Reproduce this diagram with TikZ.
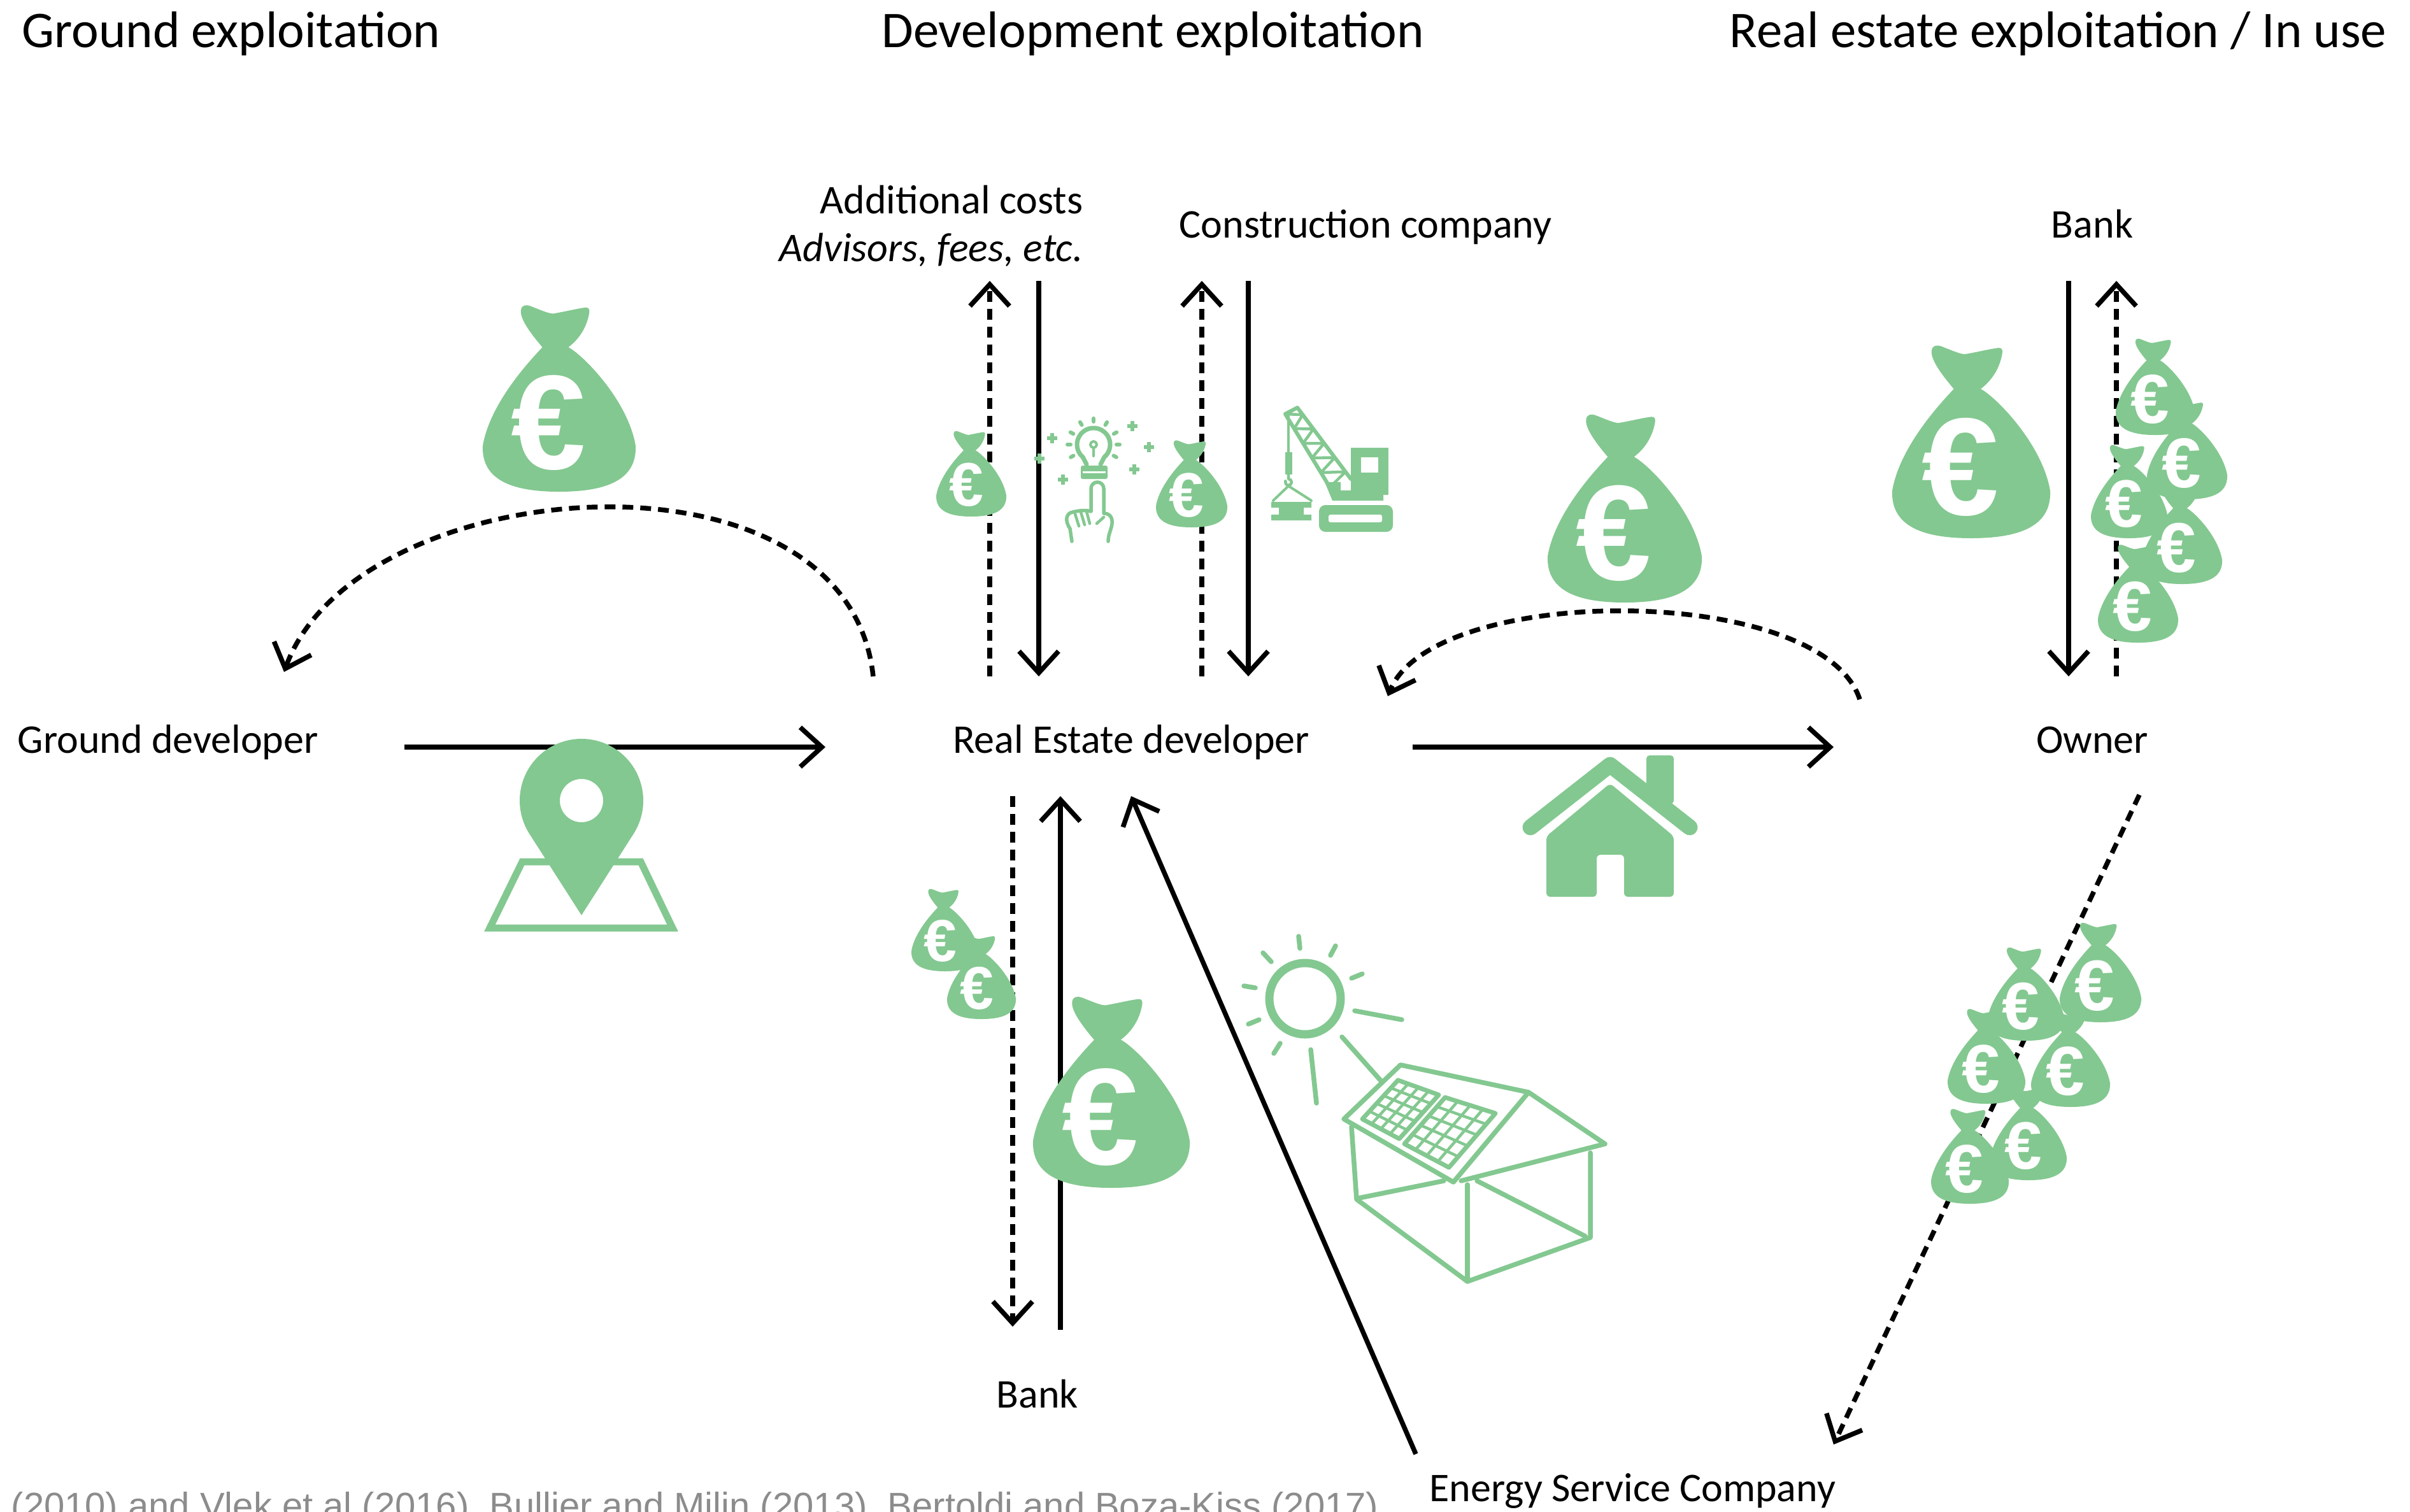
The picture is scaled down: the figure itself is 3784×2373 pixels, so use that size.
\documentclass[tikz,border=0pt]{standalone}
\usepackage{fontspec}
\setmainfont{Carlito}
\newfontfamily\eurofont{Liberation Sans}
\newfontfamily\quellfont{Liberation Sans}
\usepackage{tikz}
\usetikzlibrary{arrows.meta,calc}

\definecolor{geld}{RGB}{131,200,144}
\definecolor{quellgrau}{RGB}{140,140,140}

\tikzset{
    fluss/.style={line width=.75mm, -{Straight Barb[length=3.4mm,width=6.2mm]}},
    geldfluss/.style={fluss, dash pattern=on 1.7mm off 1.1mm},
    titel/.style={font=\fontsize{23}{28}\selectfont, inner sep=0pt},
    beschr/.style={font=\fontsize{18.2}{22}\selectfont, inner sep=0pt},
    quelle/.style={font=\quellfont\fontsize{16.5}{20}\selectfont, text=quellgrau, inner sep=0pt},
    icon/.style={fill=geld},
    strich/.style={draw=geld, line width=.75mm, line cap=round, line join=round},
    euro/.style={text=white, font=\eurofont\bfseries\fontsize{50}{50}\selectfont, inner sep=0pt, transform shape},
    pics/sack/.style={code={
        \fill[icon] (-22,189) .. controls (-40,210) and (-52,228) .. (-50,238)
            .. controls (-49,244) and (-44,245) .. (-38,243)
            .. controls (-25,238) and (-14,233) .. (-8,233)
            .. controls (5,235) and (25,240) .. (35,241)
            .. controls (40,241) and (40,237) .. (39,232)
            .. controls (35,212) and (24,198) .. (12,189)
            .. controls (30,180) and (90,120) .. (100,60)
            .. controls (102,12) and (55,0) .. (0,0)
            .. controls (-55,0) and (-102,12) .. (-100,60)
            .. controls (-90,120) and (-30,180) .. (-22,189) -- cycle;
        \node[euro] (-e) at (-14,90) {€};
    }},
}

\begin{document}
\begin{tikzpicture}[x=.1mm, y=.1mm]
    \useasboundingbox (0,0) rectangle (3784,-2373);

    % Beschriftung.
    \node[titel, anchor=base west] (t-grund) at (34,-74) {Ground exploitation};
    \node[titel, anchor=base] (t-entw) at (1810,-74) {Development exploitation};
    \node[titel, anchor=base east] (t-nutz) at (3748,-74) {Real estate exploitation / In use};

    \node[beschr, anchor=base east] (zusatz) at (1701,-335) {Additional costs};
    \node[beschr, anchor=base east, font=\fontsize{18.2}{22}\selectfont\itshape] (berater) at (1701,-410) {Advisors, fees, etc.};
    \node[beschr, anchor=base west] (bau) at (1851,-373) {Construction company};
    \node[beschr, anchor=base] (bank-o) at (3285,-373) {Bank};
    \node[beschr, anchor=base west] (gd) at (27,-1182) {Ground developer};
    \node[beschr, anchor=base] (red) at (1776,-1182) {Real Estate developer};
    \node[beschr, anchor=base] (own) at (3285,-1182) {Owner};
    \node[beschr, anchor=base] (bank-u) at (1629,-2210) {Bank};
    \node[beschr, anchor=base west] (esco) at (2244,-2357) {Energy Service Company};
    \node[quelle, anchor=base west] (quelle) at (17,-2384)
        {(2010) and Vlek et al (2016), Bullier and Milin (2013), Bertoldi and Boza-Kiss (2017)};

    % Ankerpunkte.
    \coordinate (gd-o) at (635,-1173);
    \coordinate (red-w) at (1296,-1173);
    \coordinate (red-o) at (2218,-1173);
    \coordinate (own-w) at (2879,-1173);
    \coordinate (red-s) at (1776,-1250);
    \coordinate (esco-n) at (2223,-2283);
    \coordinate (own-s) at (3359,-1248);
    \coordinate (esco-ne) at (2879,-2268);
    \coordinate (bogen1-a) at (1371,-1062);
    \coordinate (bogen1-b) at (446,-1055);
    \coordinate (bogen2-a) at (2920,-1098);
    \coordinate (bogen2-b) at (2179,-1093);
    \foreach \n/\x in {kg/1554, kz/1631, bg/1887, bz/1960, hz/3248, hg/3323}
    {
        \coordinate (\n-o) at (\x,-441);
        \coordinate (\n-u) at (\x,-1062);
    }
    \coordinate (ug-o) at (1590,-1250);
    \coordinate (ug-u) at (1590,-2083);
    \coordinate (uz-o) at (1665,-1250);
    \coordinate (uz-u) at (1665,-2088);

    % Pfeile.
    \draw[fluss] (gd-o) -- (red-w);
    \draw[fluss] (red-o) -- (own-w);
    \draw[fluss] (esco-n) -- (red-s);
    \draw[geldfluss] (own-s) -- (esco-ne);

    \draw[geldfluss] (kg-u) -- (kg-o);
    \draw[fluss]     (kz-o) -- (kz-u);
    \draw[geldfluss] (bg-u) -- (bg-o);
    \draw[fluss]     (bz-o) -- (bz-u);
    \draw[fluss]     (hz-o) -- (hz-u);
    \draw[geldfluss] (hg-u) -- (hg-o);
    \draw[geldfluss] (ug-o) -- (ug-u);
    \draw[fluss]     (uz-u) -- (uz-o);

    \draw[geldfluss] (bogen1-a) .. controls (1330,-680) and (560,-740) .. (bogen1-b);
    \draw[geldfluss] (bogen2-a) .. controls (2860,-915) and (2250,-915) .. (bogen2-b);

    % Geldsaecke.
    \foreach \x/\y/\s [count=\i] in {878/772/1.2, 1525/811/.55, 1871/828/.56,
        2551/946/1.21, 3095/845/1.24, 1745/1865/1.23, 1484/1525/.53, 1541/1600/.54,
        3384/683/.62, 3434/784/.63, 3343/845/.6, 3426/917/.63, 3357/1009/.63,
        3298/1605/.64, 3181/1634/.6, 3119/1733/.61, 3251/1738/.62, 3185/1853/.6, 3093/1890/.61}
    {
        \pic[scale=\s] (sack\i) at (\x,-\y) {sack};
    }

    % Grundstueck.
    \draw[strich, line width=1.1mm, line cap=butt, line join=miter] (820,-1353) -- (1006,-1353) -- (1056,-1457) -- (769,-1457) -- cycle;
    \fill[icon, even odd rule] (913,-1437) -- ($(913,-1257)+(-32.6:97)$) arc[start angle=-32.6, end angle=212.6, radius=97] -- cycle
        (913,-1257) circle[radius=34];

    % Haus.
    \draw[draw=geld, line width=2.5mm, line cap=round, line join=round] (2403,-1299) -- (2528,-1201) -- (2653,-1299);
    \fill[icon, rounded corners=.5mm] (2585,-1262) -- (2585,-1186) -- (2628,-1186) -- (2628,-1262) -- cycle;
    \fill[icon, rounded corners=.6mm] (2428,-1313) -- (2528,-1230) -- (2628,-1313) -- (2628,-1408) -- (2550,-1408)
        -- (2550,-1342) -- (2507,-1342) -- (2507,-1408) -- (2428,-1408) -- cycle;

    % Sonne und Solarhaus.
    \draw[draw=geld, line width=1.3mm] (2049,-1568) circle[radius=56];
    \foreach \ax/\ay/\bx/\by in {2039/1470/2041/1489, 2097/1485/2089/1500, 2122/1536/2139/1529,
        2127/1587/2201/1601, 2107/1628/2170/1699, 2058/1648/2067/1732, 2010/1638/2000/1654,
        1977/1601/1960/1608, 1971/1551/1953/1548, 1996/1510/1983/1496}
    {
        \draw[strich] (\ax,-\ay) -- (\bx,-\by);
    }
    \draw[strich] (2110,-1757) -- (2199,-1672) -- (2400,-1715) -- (2282,-1856) -- cycle;
    \draw[strich] (2400,-1715) -- (2520,-1796) -- (2294,-1854);
    \draw[strich] (2122,-1769) -- (2130,-1883) -- (2304,-2012) -- (2497,-1943) -- (2497,-1810);
    \draw[strich] (2134,-1881) -- (2267,-1854);
    \draw[strich] (2304,-1860) -- (2304,-2012);
    \draw[strich] (2319,-1854) -- (2489,-1941);
    \foreach \ax/\ay/\bx/\by/\cx/\cy/\qx/\qy in {2195/1696/2259/1719/2197/1788/2139/1757,
        2269/1723/2348/1748/2275/1833/2205/1796}
    {
        \coordinate (pa) at (\ax,-\ay);
        \coordinate (pb) at (\bx,-\by);
        \coordinate (pc) at (\cx,-\cy);
        \coordinate (pd) at (\qx,-\qy);
        \draw[strich, line width=.7mm] (pa) -- (pb) -- (pc) -- (pd) -- cycle;
        \foreach \i in {1,2,3}
            \draw[strich, line width=.45mm] ($(pa)!\i/4!(pb)$) -- ($(pd)!\i/4!(pc)$);
        \foreach \j in {1,...,4}
            \draw[strich, line width=.45mm] ($(pa)!\j/5!(pd)$) -- ($(pb)!\j/5!(pc)$);
    }

    % Gluehbirne und Hand.
    \draw[strich, line width=.7mm] (1706,-729) -- (1700.3,-717.9) arc[start angle=230, end angle=-50, radius=26] -- (1728,-729);
    \draw[strich, line width=.4mm] (1717,-716) -- (1717,-703) (1717,-698) circle[radius=5];
    \fill[icon, rounded corners=.3mm] (1697,-731) rectangle (1739,-752);
    \draw[white, line width=.3mm] (1700,-741) -- (1736,-741);
    \foreach \a in {-29,0,28,59,90,121,152,180,209}
        \draw[strich, line width=.6mm] ($(1717,-698)+(\a:36)$) -- ($(1717,-698)+(\a:41)$);
    \foreach \x/\y in {1652/688, 1778/669, 1804/702, 1632/720, 1669/753, 1781/737}
        \draw[strich, line width=.55mm, line cap=butt] (\x-8,-\y) -- (\x+8,-\y) (\x,-\y+8) -- (\x,-\y-8);
    \draw[strich, line width=.55mm] (1683,-850) -- (1680,-830) .. controls (1672,-818) and (1674,-808) .. (1681,-805)
        .. controls (1690,-802) and (1705,-800) .. (1713,-803) -- (1713,-767) arc[start angle=180, end angle=0, radius=10]
        -- (1733,-806) .. controls (1742,-806) and (1747,-812) .. (1746,-822)
        .. controls (1745,-832) and (1740,-838) .. (1740,-850);
    \draw[strich, line width=.45mm] (1688,-807) -- (1694,-826) (1697,-804) -- (1703,-824) (1706,-803) -- (1711,-822)
        (1733,-812) -- (1722,-822);

    % Kran.
    \coordinate (ausl-l1) at (2018,-650);
    \coordinate (ausl-l2) at (2088,-765);
    \coordinate (ausl-r1) at (2037,-640);
    \coordinate (ausl-r2) at (2121,-752);
    \draw[strich, line width=.6mm] (ausl-l1) -- (ausl-l2) (ausl-r1) -- (ausl-r2) (ausl-l1) -- (ausl-r1);
    \foreach \t in {0,.2,.4,.6,.8}
        \draw[strich, line width=.45mm] ($(ausl-l1)!\t!(ausl-l2)$) -- ($(ausl-r1)!{\t+.1}!(ausl-r2)$) -- ($(ausl-l1)!{\t+.2}!(ausl-l2)$);
    \draw[strich, line width=.4mm] (2023,-648) -- (2023,-712);
    \fill[icon] (2018,-710) rectangle (2029,-745);
    \draw[strich, line width=.45mm] (2023,-745) -- (2023,-752) arc[start angle=90, end angle=-200, radius=5];
    \draw[strich, line width=.4mm] (1999,-786) -- (2023,-763) -- (2059,-786);
    \fill[icon] (1996,-788) rectangle (2059,-797) (2008,-797) rectangle (2047,-808) (1996,-808) rectangle (2059,-817);
    \fill[icon] (2121,-703) rectangle (2180,-777);
    \fill[white] (2137,-718) rectangle (2164,-742);
    \fill[icon] (2080,-757) -- (2105,-757) -- (2105,-770) -- (2172,-770) -- (2172,-786) -- (2092,-786) -- cycle;
    \fill[icon, rounded corners=1mm] (2071,-793) rectangle (2187,-835);
    \fill[white, rounded corners=.3mm] (2086,-808) rectangle (2170,-820);
\end{tikzpicture}
\end{document}
